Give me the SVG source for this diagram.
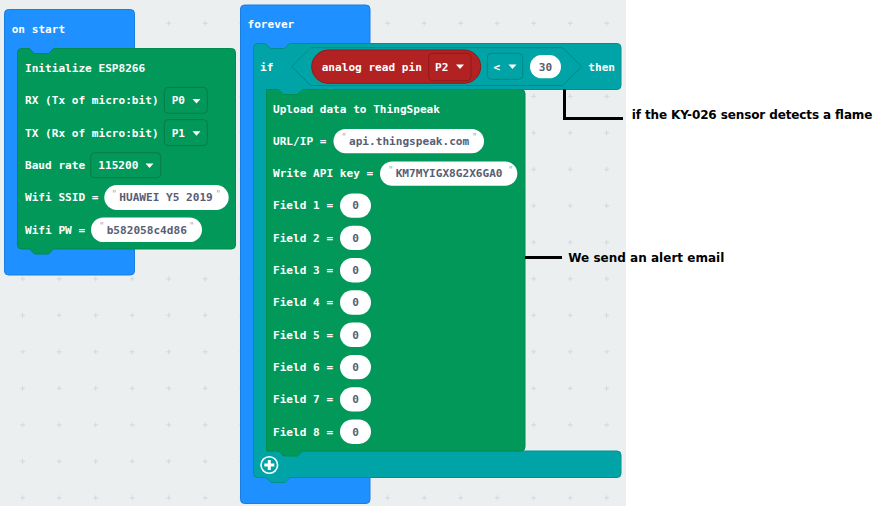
<svg xmlns="http://www.w3.org/2000/svg" width="893" height="506" viewBox="0 0 893 506">
<style>
.t{font-family:"DejaVu Sans Mono","Liberation Mono",monospace;font-size:11.1px;font-weight:bold;fill:#ffffff}
.v{font-family:"DejaVu Sans Mono","Liberation Mono",monospace;font-size:11.1px;font-weight:bold;fill:#575E75}
.q{font-family:"DejaVu Sans Mono","Liberation Mono",monospace;font-size:9px;fill:#a8a8b4}
.blue{fill:#1E90FF;stroke:#1a7ee0;stroke-width:1}
.green{fill:#01985A;stroke:#018a51;stroke-width:1}
.teal{fill:#00A4A6;stroke:#00918f;stroke-width:1}
.gdd{fill:#01985A;stroke:#0a7a45;stroke-width:1}
.tdd{fill:#00A4A6;stroke:#008688;stroke-width:1}
.rdd{fill:#B22222;stroke:#8E1B1B;stroke-width:1}
.pill{fill:#ffffff}
.arr{fill:#ffffff}
.ann{font-family:"DejaVu Sans","Liberation Sans",sans-serif;font-size:12px;font-weight:bold;fill:#000000}
.line{fill:none;stroke:#000000;stroke-width:3}
</style>
<defs>
<pattern id="grid" patternUnits="userSpaceOnUse" x="4.45" y="5.05" width="36.5" height="36.5">
<path d="M15.75 18.25H20.75M18.25 15.75V20.75" stroke="#d3d8db" stroke-width="1" fill="none"/>
</pattern>
</defs>
<rect x="0" y="0" width="893" height="506" fill="#ffffff"/>
<rect x="0" y="0" width="626" height="506" fill="#ECEFF0"/>
<rect x="0" y="0" width="626" height="506" fill="url(#grid)"/>

<g id="on-start">
<rect class="blue" x="4.5" y="9.5" width="130" height="265.5" rx="4"/>
<text class="t" x="11.7" y="32.5">on start</text>
</g>

<g id="init-esp8266">
<path class="green" d="M17.5 52.5a4 4 0 0 1 4-4H29.5l5 5h14l5-5H231.5a4 4 0 0 1 4 4V245a4 4 0 0 1-4 4H53.5l-5 5h-14l-5-5H21.5a4 4 0 0 1-4-4Z"/>
<text class="t" x="25" y="72">Initialize ESP8266</text>
<text class="t" x="25" y="104.3">RX (Tx of micro:bit)</text>
<rect class="gdd" x="164.3" y="87.3" width="43" height="26" rx="4"/>
<text class="t" x="171.7" y="104.3">P0</text>
<path class="arr" d="M192.5 99H200.5L196.5 103.5Z"/>
<text class="t" x="25" y="136.6">TX (Rx of micro:bit)</text>
<rect class="gdd" x="164.3" y="119.6" width="43" height="26" rx="4"/>
<text class="t" x="171.7" y="136.6">P1</text>
<path class="arr" d="M192.5 131.3H200.5L196.5 135.8Z"/>
<text class="t" x="25" y="168.9">Baud rate</text>
<rect class="gdd" x="90.7" y="152.7" width="70" height="25" rx="4"/>
<text class="t" x="98.3" y="168.9">115200</text>
<path class="arr" d="M145.5 163.6H153.5L149.5 168.1Z"/>
<text class="t" x="25" y="201.2">Wifi SSID =</text>
<rect class="pill" x="104.3" y="185" width="124.4" height="25" rx="12.5"/>
<text class="q" x="111.5" y="196.5">"</text>
<text class="v" x="119.3" y="201.2">HUAWEI Y5 2019</text>
<text class="q" x="215.5" y="196.5">"</text>
<text class="t" x="25" y="233.5">Wifi PW =</text>
<rect class="pill" x="91" y="217.5" width="111" height="24.6" rx="12.3"/>
<text class="q" x="99" y="228.8">"</text>
<text class="v" x="106.7" y="233.5">b582058c4d86</text>
<text class="q" x="189" y="228.8">"</text>
</g>

<g id="forever">
<rect class="blue" x="240.5" y="5" width="129.5" height="498.5" rx="4"/>
<text class="t" x="247.5" y="28">forever</text>
</g>

<g id="if-block">
<path class="teal" d="M253.5 47.5a4 4 0 0 1 4-4H265.5l5 5h14l5-5H617a4 4 0 0 1 4 4V85.5a4 4 0 0 1-4 4H302.5l-5 5h-14l-5-5H266.5V451H617a4 4 0 0 1 4 4V473.5a4 4 0 0 1-4 4H290l-5 5h-14l-5-5H257.5a4 4 0 0 1-4-4Z"/>
<text class="t" x="260" y="70.7">if</text>
<path class="tdd" d="M291.7 66.7L310.7 47.7H562.7L581.7 66.7L562.7 85.5H310.7Z"/>
<text class="t" x="588.3" y="70.7">then</text>
<circle cx="269.3" cy="465" r="8.3" fill="none" stroke="#ffffff" stroke-width="1.6"/>
<path d="M264.3 465H274.3M269.3 460V470" stroke="#ffffff" stroke-width="3" fill="none"/>
</g>

<g id="analog-read">
<rect class="rdd" x="311.7" y="50" width="169" height="33.3" rx="16.65"/>
<text class="t" x="321.7" y="70.7">analog read pin</text>
<rect class="rdd" x="428.7" y="53.3" width="42.3" height="27.4" rx="4"/>
<text class="t" x="435" y="70.7">P2</text>
<path class="arr" d="M456 64.5H464L460 69Z"/>
</g>

<g id="compare">
<rect class="tdd" x="487.3" y="53.3" width="35.4" height="26" rx="4"/>
<text class="t" x="493.5" y="70.7">&lt;</text>
<path class="arr" d="M508.5 64.5H516.5L512.5 69Z"/>
<rect class="pill" x="530" y="55" width="31" height="23.3" rx="11.65"/>
<text class="v" x="545.5" y="70.7" text-anchor="middle">30</text>
</g>

<g id="upload-thingspeak">
<path class="green" d="M266.5 89.5H278.5l5 5h14l5-5H521a4 4 0 0 1 4 4V447a4 4 0 0 1-4 4H302.5l-5 5h-14l-5-5H266.5Z"/>
<text class="t" x="273" y="112.5">Upload data to ThingSpeak</text>
<text class="t" x="273" y="144.8">URL/IP =</text>
<rect class="pill" x="333.5" y="129" width="150.5" height="24.3" rx="12.15"/>
<text class="q" x="341.3" y="140.3">"</text>
<text class="v" x="349" y="144.8">api.thingspeak.com</text>
<text class="q" x="472" y="140.3">"</text>
<text class="t" x="273" y="177.1">Write API key =</text>
<rect class="pill" x="380" y="161.5" width="137.3" height="24.3" rx="12.15"/>
<text class="q" x="388" y="172.6">"</text>
<text class="v" x="395.7" y="177.1">KM7MYIGX8G2X6GA0</text>
<text class="q" x="508" y="172.6">"</text>
<text class="t" x="273" y="209.4">Field 1 =</text>
<rect class="pill" x="340" y="193.4" width="31" height="24.4" rx="12.2"/>
<text class="v" x="355.5" y="209.4" text-anchor="middle">0</text>
<text class="t" x="273" y="241.7">Field 2 =</text>
<rect class="pill" x="340" y="225.7" width="31" height="24.4" rx="12.2"/>
<text class="v" x="355.5" y="241.7" text-anchor="middle">0</text>
<text class="t" x="273" y="274">Field 3 =</text>
<rect class="pill" x="340" y="258" width="31" height="24.4" rx="12.2"/>
<text class="v" x="355.5" y="274" text-anchor="middle">0</text>
<text class="t" x="273" y="306.3">Field 4 =</text>
<rect class="pill" x="340" y="290.3" width="31" height="24.4" rx="12.2"/>
<text class="v" x="355.5" y="306.3" text-anchor="middle">0</text>
<text class="t" x="273" y="338.6">Field 5 =</text>
<rect class="pill" x="340" y="322.6" width="31" height="24.4" rx="12.2"/>
<text class="v" x="355.5" y="338.6" text-anchor="middle">0</text>
<text class="t" x="273" y="370.9">Field 6 =</text>
<rect class="pill" x="340" y="354.9" width="31" height="24.4" rx="12.2"/>
<text class="v" x="355.5" y="370.9" text-anchor="middle">0</text>
<text class="t" x="273" y="403.2">Field 7 =</text>
<rect class="pill" x="340" y="387.2" width="31" height="24.4" rx="12.2"/>
<text class="v" x="355.5" y="403.2" text-anchor="middle">0</text>
<text class="t" x="273" y="435.5">Field 8 =</text>
<rect class="pill" x="340" y="419.5" width="31" height="24.4" rx="12.2"/>
<text class="v" x="355.5" y="435.5" text-anchor="middle">0</text>
</g>

<g id="connectors">
<path class="line" d="M564.5 89.5V118.5H623"/>
<path class="line" d="M525 257.5H562"/>
</g>

<g id="annotation-flame">
<text class="ann" x="631.7" y="119.3" textLength="240.7">if the KY-026 sensor detects a flame</text>
</g>
<g id="annotation-email">
<text class="ann" x="568.3" y="262.3" textLength="156">We send an alert email</text>
</g>
</svg>
